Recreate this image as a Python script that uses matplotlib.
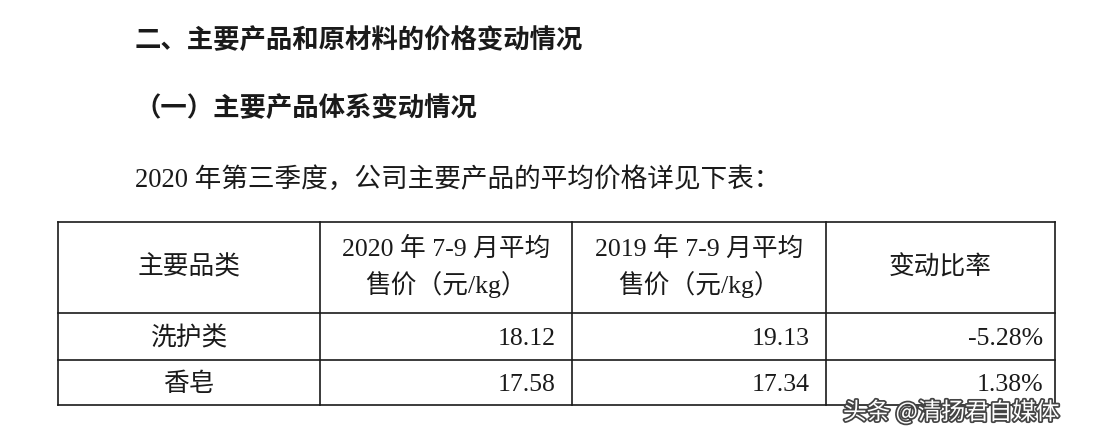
import matplotlib.pyplot as plt
import matplotlib.patheffects as pe

plt.rcParams['font.family'] = ['Liberation Serif', 'Noto Sans CJK SC', 'DejaVu Sans']

# table data
categories = ["洗护类", "香皂"]
price_2020 = ["18.12", "17.58"]
price_2019 = ["19.13", "17.34"]
change_rate = ["-5.28%", "1.38%"]
header = ["主要品类", "2020 年 7-9 月平均\n售价（元/kg）", "2019 年 7-9 月平均\n售价（元/kg）", "变动比率"]

fig = plt.figure(figsize=(11.2, 4.44), dpi=100)
ax = fig.add_axes([0, 0, 1, 1])
ax.set_xlim(0, 1120)
ax.set_ylim(444, 0)
ax.axis("off")

ink = "#1a1a1a"
ax.text(135, 40, "二、主要产品和原材料的价格变动情况", fontsize=19, fontweight="bold",
        family=['Noto Sans CJK SC'], color=ink, va="center")
ax.text(135, 108, "（一）主要产品体系变动情况", fontsize=19, fontweight="bold",
        family=['Noto Sans CJK SC'], color=ink, va="center")
ax.text(135, 180, "2020 年第三季度，公司主要产品的平均价格详见下表：", fontsize=19.2,
        color=ink, va="center")

# table grid
cols = [58, 320, 572, 826, 1055]
rows = [222, 313, 360, 405]
for y in rows:
    ax.plot([cols[0], cols[-1]], [y, y], color=ink, lw=1.2)
for x in cols:
    ax.plot([x, x], [rows[0], rows[-1]], color=ink, lw=1.2)

mid = [(cols[i] + cols[i + 1]) / 2 for i in range(4)]
hy = (rows[0] + rows[1]) / 2
for i, h in enumerate(header):
    ax.text(mid[i], hy, h, fontsize=18.5, color=ink, ha="center", va="center", linespacing=1.45)

for r in range(len(categories)):
    y = (rows[r + 1] + rows[r + 2]) / 2 + 2
    ax.text(mid[0], y, categories[r], fontsize=18.5, color=ink, ha="center", va="center")
    ax.text(cols[2] - 16, y, price_2020[r], fontsize=18.5, color=ink, ha="right", va="center")
    ax.text(cols[3] - 16, y, price_2019[r], fontsize=18.5, color=ink, ha="right", va="center")
    ax.text(cols[4] - 12, y, change_rate[r], fontsize=18.5, color=ink, ha="right", va="center")

ax.text(843, 412, "头条 @清扬君自媒体", fontsize=17, family=['Noto Sans CJK SC'],
        color="white", va="center",
        path_effects=[pe.withStroke(linewidth=2.5, foreground="#444444")])

fig.savefig("out.png", dpi=100)
